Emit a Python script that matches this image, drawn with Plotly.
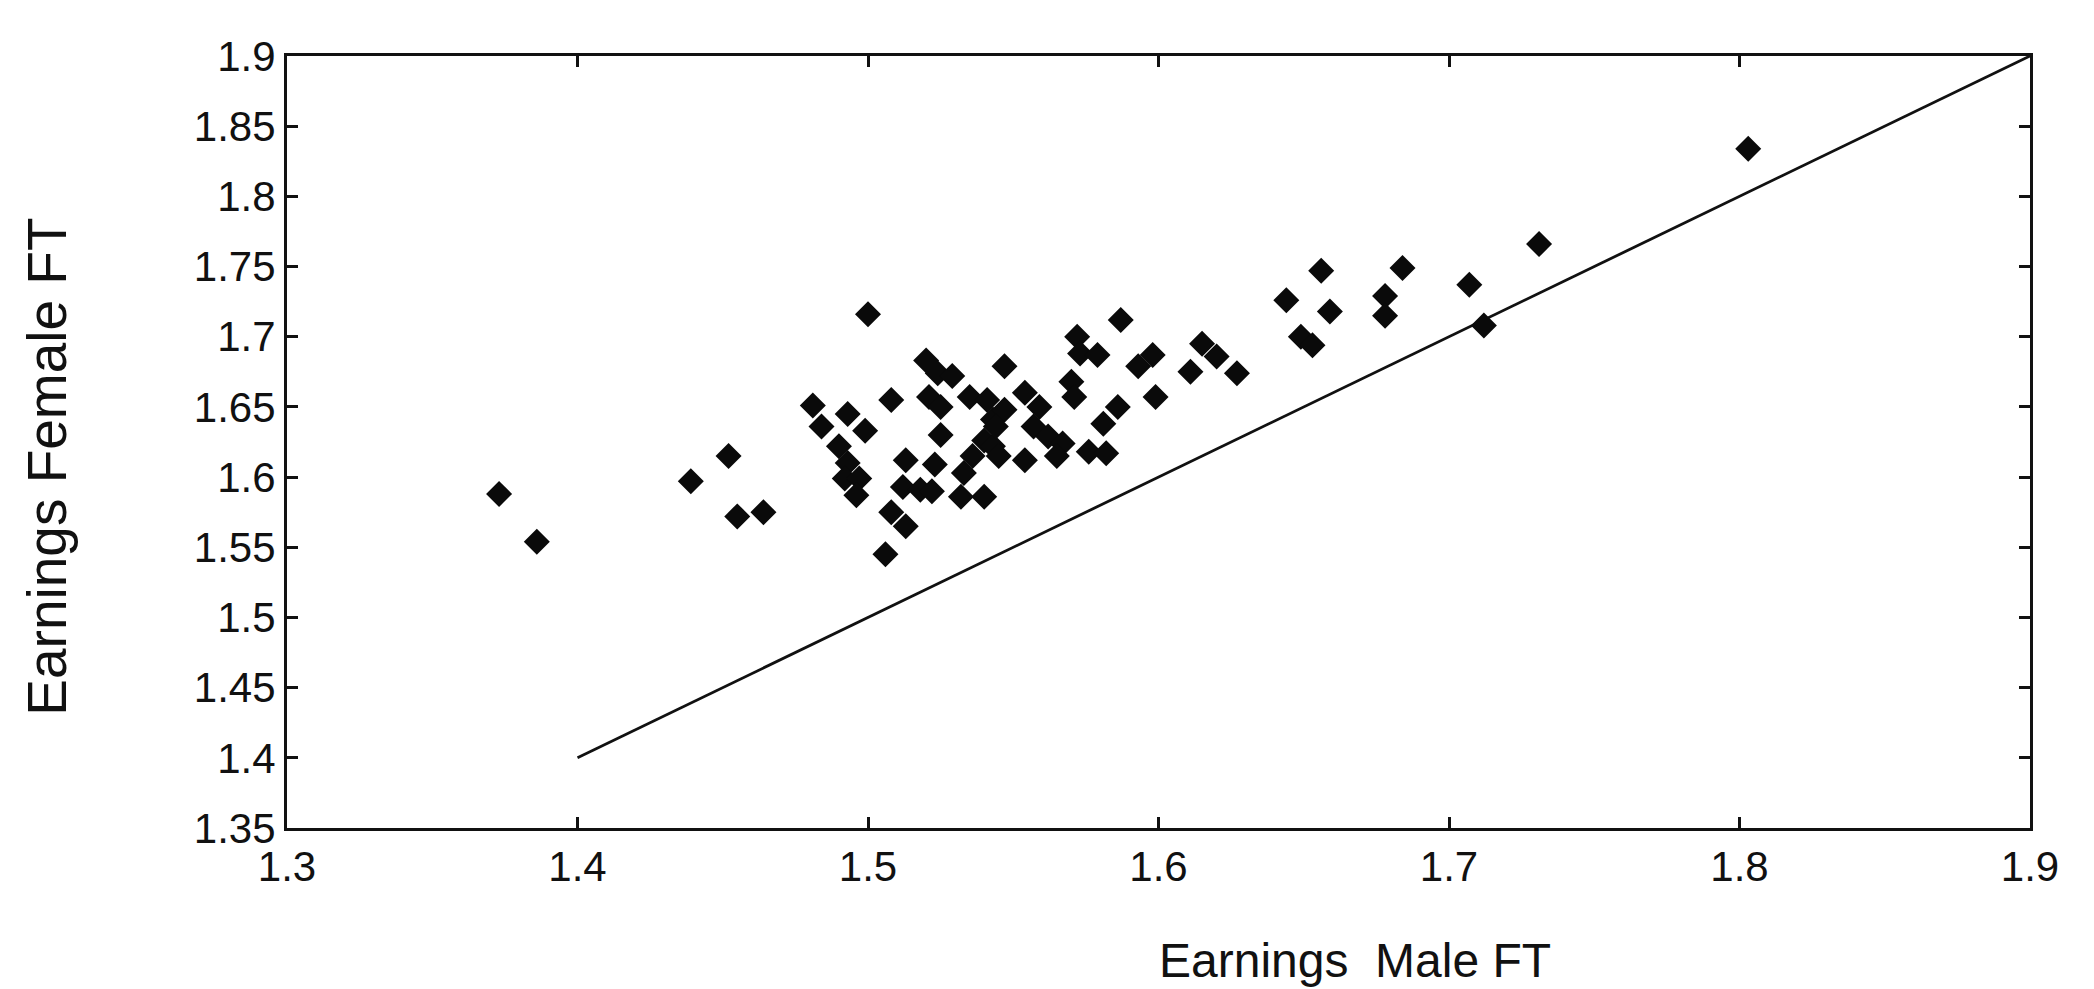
import plotly.graph_objects as go

# Log earnings, full-time workers: male (x) vs female (y)
male_ft = [
    1.373, 1.386, 1.439, 1.452, 1.455, 1.464,
    1.500, 1.481, 1.484, 1.493, 1.499, 1.508, 1.490, 1.493, 1.492, 1.497,
    1.496, 1.508, 1.513, 1.506, 1.513, 1.523, 1.512, 1.518, 1.522, 1.525,
    1.520, 1.524, 1.529, 1.521, 1.525, 1.535, 1.541, 1.543, 1.540, 1.536,
    1.533, 1.532, 1.540, 1.543,
    1.547, 1.587, 1.572, 1.573, 1.579, 1.593, 1.598, 1.570, 1.571, 1.599,
    1.586, 1.581, 1.576, 1.582, 1.615, 1.611, 1.620, 1.554, 1.559, 1.547,
    1.544, 1.557, 1.562, 1.567, 1.565, 1.554, 1.545,
    1.656, 1.644, 1.659, 1.649, 1.653, 1.684, 1.678, 1.678, 1.707, 1.712,
    1.627, 1.731, 1.803,
]
female_ft = [
    1.588, 1.554, 1.597, 1.615, 1.572, 1.575,
    1.716, 1.651, 1.636, 1.645, 1.633, 1.655, 1.622, 1.610, 1.599, 1.599,
    1.587, 1.575, 1.565, 1.545, 1.612, 1.609, 1.593, 1.591, 1.590, 1.630,
    1.683, 1.674, 1.672, 1.657, 1.650, 1.657, 1.655, 1.641, 1.626, 1.615,
    1.603, 1.586, 1.586, 1.622,
    1.679, 1.712, 1.700, 1.688, 1.687, 1.679, 1.687, 1.668, 1.657, 1.657,
    1.650, 1.638, 1.618, 1.617, 1.695, 1.675, 1.686, 1.660, 1.650, 1.648,
    1.636, 1.636, 1.629, 1.624, 1.615, 1.612, 1.615,
    1.747, 1.726, 1.718, 1.700, 1.694, 1.749, 1.729, 1.715, 1.737, 1.708,
    1.674, 1.766, 1.834,
]

# Equality line (female = male)
equal_line = [1.4, 1.9]

x_ticks = [1.3, 1.4, 1.5, 1.6, 1.7, 1.8, 1.9]
x_tick_text = ["1.3", "1.4", "1.5", "1.6", "1.7", "1.8", "1.9"]
y_ticks = [1.35, 1.4, 1.45, 1.5, 1.55, 1.6, 1.65, 1.7, 1.75, 1.8, 1.85, 1.9]
y_tick_text = ["1.35", "1.4", "1.45", "1.5", "1.55", "1.6", "1.65",
               "1.7", "1.75", "1.8", "1.85", "1.9"]

x_title = "Earnings  Male FT"
y_title = "Earnings Female FT"

tick_font = dict(family="Liberation Sans, Arial, sans-serif", size=42, color="#111111")
x_title_font = dict(family="Liberation Sans, Arial, sans-serif", size=48, color="#111111")
y_title_font = dict(family="Liberation Sans, Arial, sans-serif", size=55, color="#111111")

fig = go.Figure()

fig.add_trace(go.Scatter(
    x=equal_line, y=equal_line, mode="lines",
    line=dict(color="#111111", width=2.8),
    showlegend=False, hoverinfo="skip",
))

fig.add_trace(go.Scatter(
    x=male_ft, y=female_ft, mode="markers",
    marker=dict(symbol="diamond", size=20, color="#0a0a0a", line=dict(width=0)),
    showlegend=False,
))

axis_common = dict(
    showgrid=False, zeroline=False,
    showline=True, linecolor="#111111", linewidth=3, mirror="ticks",
    ticks="inside", ticklen=11, tickwidth=2.5, tickcolor="#111111",
    tickfont=tick_font,
)

fig.update_layout(
    width=2094, height=989,
    margin=dict(l=287, r=64, t=56, b=161),
    paper_bgcolor="white", plot_bgcolor="white",
    font=dict(family="Liberation Sans, Arial, sans-serif", color="#111111"),
    xaxis=dict(range=[1.3, 1.9], tickmode="array", tickvals=x_ticks,
               ticktext=x_tick_text, **axis_common),
    yaxis=dict(range=[1.35, 1.9], tickmode="array", tickvals=y_ticks,
               ticktext=y_tick_text, **axis_common),
    annotations=[
        dict(text=x_title, xref="paper", yref="paper", x=0.613, y=-0.172,
             xanchor="center", yanchor="middle", showarrow=False, font=x_title_font),
        dict(text=y_title, xref="paper", yref="paper", x=-0.1377, y=0.468,
             xanchor="center", yanchor="middle", textangle=-90,
             showarrow=False, font=y_title_font),
    ],
)

fig.write_html("out.html")
